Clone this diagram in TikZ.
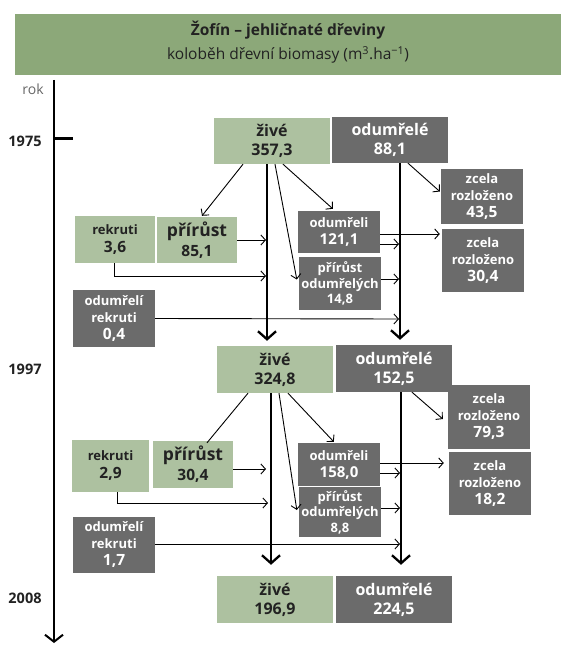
\documentclass[tikz,border=0pt]{standalone}
\usepackage{fontspec}
\setmainfont{Open Sans}
\usetikzlibrary{arrows.meta}
\definecolor{banner}{HTML}{8CA879}
\definecolor{lgreen}{HTML}{ADC1A0}
\definecolor{dgray}{HTML}{6B6B6B}
\definecolor{txt}{HTML}{222222}
\tikzset{
  gbox/.style={fill=lgreen, text=txt, inner sep=0pt, align=center},
  dbox/.style={fill=dgray, text=white, inner sep=0pt, align=center},
  mainf/.style={font=\bfseries\fontsize{16}{19}\selectfont},
  smallf/.style={font=\bfseries\fontsize{13}{17}\selectfont},
  thinarr/.style={line width=0.9pt, -{Straight Barb[length=4.5pt,width=10pt]}},
  thinline/.style={line width=0.9pt},
  thickarr/.style={line width=2.6pt, -{Straight Barb[length=8pt,width=18pt,line width=2.3pt]}},
  yearlbl/.style={font=\bfseries\fontsize{14.5}{16}\selectfont, text=txt, anchor=center}
}
\newcommand{\bignum}[1]{{\fontsize{15.5}{17}\selectfont #1}}
\begin{document}
\begin{tikzpicture}[x=1pt,y=-1pt]
\useasboundingbox (0,0) rectangle (576,647);
% banner
\node[fill=banner, minimum width=546pt, minimum height=61pt, inner sep=0pt] (ban) at (288,44.5) {};
\node[font=\bfseries\fontsize{15.5}{17}\selectfont, text=txt] (t1) at (288,30) {Žofín – jehličnaté dřeviny};
\node[font=\fontsize{15.5}{17}\selectfont, text=txt] (t2) at (288,55) {koloběh dřevní biomasy (m\textsuperscript{3}.ha\textsuperscript{−1})};
% axis
\coordinate (ax0) at (54,80);
\coordinate (ax1) at (54,643);
\draw[line width=2.2pt, -{Straight Barb[length=7pt,width=18pt,line width=2pt]}] (ax0) -- (ax1);
\coordinate (tk0) at (54,138.5);
\coordinate (tk1) at (73,138.5);
\draw[line width=2.2pt] (tk0) -- (tk1);
\node[font=\fontsize{14}{16}\selectfont, text=black!60] (rok) at (33,89) {rok};
\node[yearlbl] (y1975) at (25,141) {1975};
\node[yearlbl] (y1997) at (25,369) {1997};
\node[yearlbl] (y2008) at (25,598) {2008};

% ---------- block 1 ----------
\node[gbox, mainf, minimum width=116pt, minimum height=46pt] (z1) at (272,141) {živé\\357,3};
\node[dbox, mainf, minimum width=116pt, minimum height=46pt] (o1) at (390,140) {odumřelé\\88,1};
\node[gbox, font=\bfseries\fontsize{13}{18}\selectfont, minimum width=80pt, minimum height=47pt] (r1) at (115,239.5) {rekruti\\\bignum{3,6}};
\node[gbox, font=\bfseries\fontsize{17.5}{20}\selectfont, minimum width=80pt, minimum height=46pt] (p1) at (197,240) {přírůst\\\bignum{85,1}};
\node[dbox, smallf, minimum width=82pt, minimum height=42pt] (d1) at (339,232) {odumřeli\\{\fontsize{15}{17}\selectfont 121,1}};
\node[dbox, font=\bfseries\fontsize{13}{15.5}\selectfont, minimum width=82pt, minimum height=53pt] (pd1) at (340,283.5) {přírůst\\odumřelých\\14,8};
\node[dbox, smallf, minimum width=82pt, minimum height=55pt] (zr1a) at (482,196.5) {zcela\\rozloženo\\\bignum{43,5}};
\node[dbox, smallf, minimum width=82pt, minimum height=63pt] (zr1b) at (483,260.5) {zcela\\rozloženo\\\bignum{30,4}};
\node[dbox, smallf, minimum width=82pt, minimum height=57pt] (or1) at (114,318.5) {odumřelí\\rekruti\\\bignum{0,4}};

% ---------- block 2 ----------
\node[gbox, mainf, minimum width=116pt, minimum height=47pt] (z2) at (275,369.5) {živé\\324,8};
\node[dbox, mainf, minimum width=116pt, minimum height=47pt] (o2) at (394,368.5) {odumřelé\\152,5};
\node[gbox, font=\bfseries\fontsize{13}{18}\selectfont, minimum width=77pt, minimum height=52pt] (r2) at (110.5,466) {rekruti\\\bignum{2,9}};
\node[gbox, font=\bfseries\fontsize{17.5}{20}\selectfont, minimum width=80pt, minimum height=47pt] (p2) at (193,464.5) {přírůst\\\bignum{30,4}};
\node[dbox, smallf, minimum width=82pt, minimum height=43pt] (d2) at (339,464.5) {odumřeli\\{\fontsize{15}{17}\selectfont 158,0}};
\node[dbox, font=\bfseries\fontsize{13}{15.5}\selectfont, minimum width=82pt, minimum height=50pt] (pd2) at (340,512) {přírůst\\odumřelých\\8,8};
\node[dbox, smallf, minimum width=82pt, minimum height=64pt] (zr2a) at (489,417) {zcela\\rozloženo\\\bignum{79,3}};
\node[dbox, smallf, minimum width=82pt, minimum height=63pt] (zr2b) at (490,483.5) {zcela\\rozloženo\\\bignum{18,2}};
\node[dbox, smallf, minimum width=82pt, minimum height=56pt] (or2) at (114,545) {odumřelí\\rekruti\\\bignum{1,7}};

% ---------- block 3 ----------
\node[gbox, mainf, minimum width=116pt, minimum height=47pt] (z3) at (275,599.5) {živé\\196,9};
\node[dbox, mainf, minimum width=116pt, minimum height=47pt] (o3) at (394,599.5) {odumřelé\\224,5};

% ---------- connectors block 1 ----------
\coordinate (p1e) at (266,240);
\coordinate (r1e) at (266,276);
\coordinate (or1e) at (399,319);
\coordinate (d1e) at (399,244);
\coordinate (pd1e) at (399,279);
\draw[thinarr] ([xshift=-29pt]z1.south) -- ([xshift=5pt,yshift=1pt]p1.north);
\draw[thinarr] (p1.east) -- (p1e);
\draw[thinarr] ([xshift=-1pt]r1.south) |- (r1e);
\draw[thinarr] (or1.east) -- (or1e);
\draw[thinarr] ([xshift=3pt]z1.south) -- ([xshift=-2pt,yshift=4pt]pd1.west);
\draw[thinarr] ([xshift=11pt]z1.south) -- ([xshift=35pt,yshift=2pt]d1.north west);
\draw[thinarr] ([yshift=-2pt]d1.east) -- ([xshift=-2pt,yshift=-2pt]d1.east -| zr1b.west);
\draw[thinarr] ([yshift=-12pt]d1.east) -- (d1e);
\draw[thinarr] ([yshift=4.5pt]pd1.east) -- (pd1e);
\draw[thinarr] ([xshift=18pt]o1.south) -- ([xshift=-1pt,yshift=5pt]zr1a.west);
\draw[thickarr] ([xshift=-5pt]z1.south) -- ([xshift=-8pt,yshift=5pt]z2.north);
\draw[thickarr] ([xshift=10pt]o1.south) -- ([xshift=6pt,yshift=5pt]o2.north);

% ---------- connectors block 2 ----------
\coordinate (p2e) at (266,469);
\coordinate (r2e) at (268,503);
\coordinate (or2e) at (400,544);
\coordinate (d2e) at (400,473);
\coordinate (pd2e) at (400,508);
\draw[thinline] ([xshift=-27pt]z2.south) -- ([xshift=14pt,yshift=-2pt]p2.north);
\draw[thinarr] ([yshift=-4.5pt]p2.east) -- (p2e);
\draw[thinarr] ([xshift=6.5pt]r2.south) |- (r2e);
\draw[thinarr] ([yshift=1pt]or2.east) -- (or2e);
\draw[thinarr] ([xshift=4pt]z2.south) -- ([xshift=-2pt,yshift=2pt]pd2.west);
\draw[thinarr] ([xshift=13pt]z2.south) -- ([xshift=36pt,yshift=1pt]d2.north west);
\draw[thinarr] ([yshift=1.5pt]d2.east) -- ([xshift=-5pt,yshift=1.5pt]d2.east -| zr2b.west);
\draw[thinarr] ([yshift=-8.5pt]d2.east) -- (d2e);
\draw[thinarr] ([yshift=4pt]pd2.east) -- (pd2e);
\draw[thinarr] ([xshift=18pt]o2.south) -- ([xshift=-5pt,yshift=-2pt]zr2a.west);
\draw[thickarr] ([xshift=-4pt]z2.south) -- ([xshift=-4pt,yshift=11pt]z3.north);
\draw[thickarr] ([xshift=7pt]o2.south) -- ([xshift=7pt,yshift=11pt]o3.north);
\end{tikzpicture}
\end{document}
